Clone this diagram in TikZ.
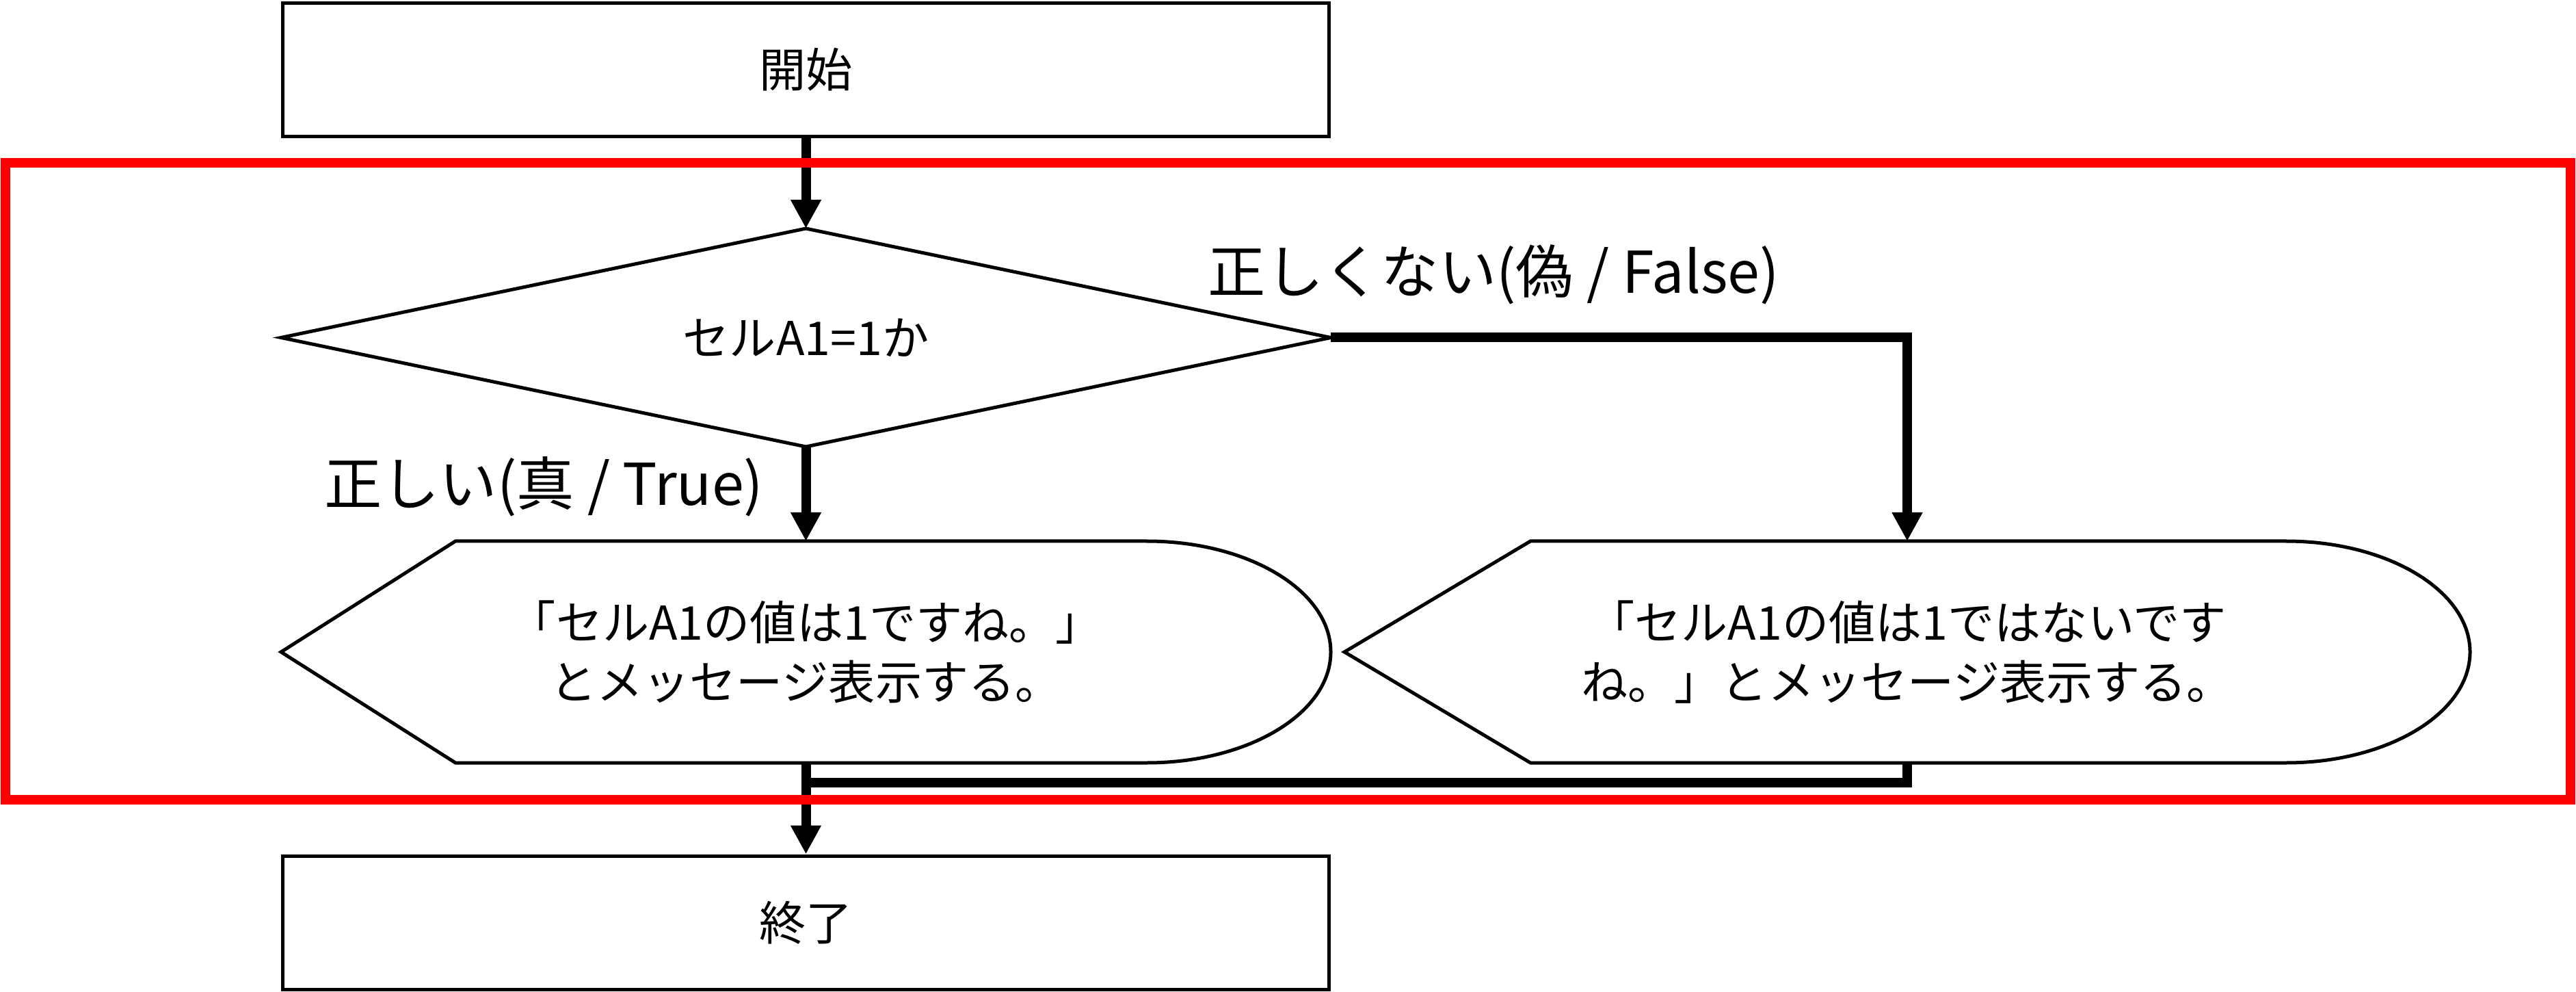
\documentclass[tikz,border=0pt]{standalone}
\usepackage{fontspec}
\setmainfont{Noto Sans CJK JP}
\usetikzlibrary{shapes.geometric,arrows.meta,calc}
\tikzset{
  boxline/.style={line width=0.05cm},
  termbox/.style={draw, boxline, rectangle, inner sep=0pt, minimum width=15.30cm, minimum height=1.95cm, font=\fontsize{19.4pt}{24.7pt}\selectfont},
  decnode/.style={rectangle, inner sep=0pt, outer sep=0pt, minimum width=15.35cm, minimum height=3.19cm, font=\fontsize{19.4pt}{24.7pt}\selectfont},
  dispnode/.style={rectangle, inner sep=0pt, outer sep=0pt, minimum height=3.24cm, align=center, font=\fontsize{19.4pt}{24.7pt}\selectfont},
  displine/.style={draw, boxline, line join=miter},
  flow/.style={line width=0.14cm},
  flowarrow/.style={flow, -{Triangle[width=0.42cm,length=0.42cm]}},
  lbl/.style={inner sep=0pt, font=\fontsize{24pt}{28pt}\selectfont},
  frame/.style={draw=red, line width=0.14cm}
}
\begin{document}
\begin{tikzpicture}
\useasboundingbox (0,0) rectangle (37.67,-14.50);
% nodes
\node[termbox] (start) at (11.785,-1.02) {開始};
\node[decnode] (dec) at (11.785,-4.935) {セルA1=1か};
\node[dispnode, minimum width=15.35cm] (disp1) at (11.785,-9.53) {「セルA1の値は1ですね。」\\とメッセージ表示する。};
\node[dispnode, minimum width=16.46cm] (disp2) at (27.89,-9.53) {「セルA1の値は1ではないです\\ね。」とメッセージ表示する。};
\node[termbox] (end) at (11.785,-13.485) {終了};
% decision diamond
\draw[displine] (dec.north) -- (dec.east) -- (dec.south) -- (dec.west) -- cycle;
% display shapes
\draw[displine] (disp1.west) -- ([xshift=2.55cm]disp1.north west) -- ([xshift=-2.69cm]disp1.north east)
  arc[start angle=90, end angle=-90, x radius=2.69cm, y radius=1.62cm]
  -- ([xshift=2.55cm]disp1.south west) -- cycle;
\draw[displine] (disp2.west) -- ([xshift=2.72cm]disp2.north west) -- ([xshift=-2.69cm]disp2.north east)
  arc[start angle=90, end angle=-90, x radius=2.69cm, y radius=1.62cm]
  -- ([xshift=2.72cm]disp2.south west) -- cycle;
% labels
\node[lbl, anchor=west] (flabel) at (17.66,-4.01) {正しくない(偽 / False)};
\node[lbl, anchor=east] (tlabel) at (11.17,-7.11) {正しい(真 / True)};
% connectors
\coordinate (mj) at (11.785,-11.44);
\draw[flowarrow] (start.south) -- (dec.north);
\draw[flowarrow] (dec.south) -- (disp1.north);
\draw[flowarrow] (dec.east) -| (disp2.north);
\draw[flow] (disp2.south) |- (mj);
\draw[flowarrow] (disp1.south) -- (end.north);
% red frame
\draw[frame] (0.08,-2.38) rectangle (37.59,-11.69);
\end{tikzpicture}
\end{document}
